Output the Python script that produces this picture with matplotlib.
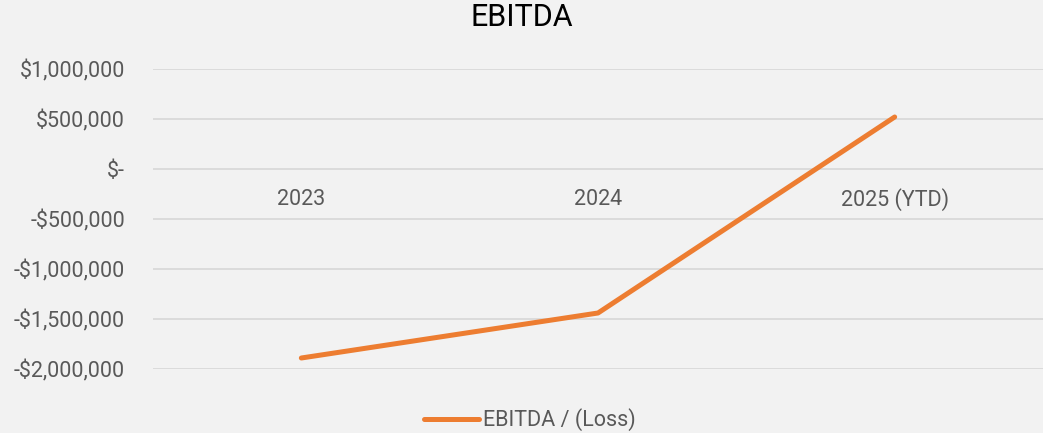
import matplotlib

matplotlib.use("Agg")
import matplotlib.pyplot as plt
from matplotlib.ticker import FuncFormatter

# --- Data ---------------------------------------------------------------------
years = ["2023", "2024", "2025 (YTD)"]
ebitda = [-1_890_000, -1_440_000, 520_000]
y_ticks = [-2_000_000, -1_500_000, -1_000_000, -500_000, 0, 500_000, 1_000_000]

BG = "#f2f2f2"
GRID = "#d9d9d9"
TEXT = "#595959"
ORANGE = "#ed7d31"

plt.rcParams["font.family"] = ["Roboto", "DejaVu Sans"]


def money(v, _pos=None):
    if v == 0:
        return "$-"
    sign = "-" if v < 0 else ""
    return f"{sign}${abs(v):,.0f}"


fig = plt.figure(figsize=(10.43, 4.33), dpi=100, facecolor=BG)
ax = fig.add_axes([153 / 1043, 1 - 369 / 433, 1 - 153 / 1043, 300 / 433])
ax.set_facecolor(BG)

x = range(len(years))
ax.plot(x, ebitda, color=ORANGE, lw=3.6, solid_capstyle="round",
        label="EBITDA / (Loss)", zorder=3)

ax.set_xlim(-0.5, len(years) - 0.5)
ax.set_ylim(y_ticks[0], y_ticks[-1])
ax.set_yticks(y_ticks)
ax.yaxis.set_major_formatter(FuncFormatter(money))
ax.grid(axis="y", color=GRID, lw=1.3)
ax.set_axisbelow(True)
ax.set_xticks([])
ax.tick_params(axis="y", length=0, pad=20, labelsize=15.5, labelcolor=TEXT)
for s in ax.spines.values():
    s.set_visible(False)

# category labels sit just below the zero line
for i, lab in enumerate(years):
    ax.annotate(lab, (i, 0), xytext=(0, -31), textcoords="offset pixels",
                ha="center", va="center", fontsize=15.5, color=TEXT)

fig.text(0.5, 1 - 18 / 433, "EBITDA", ha="center", va="center",
         fontsize=22, color="#000000")

fig.legend(loc="center", bbox_to_anchor=(0.508, 1 - 420 / 433), frameon=False,
           fontsize=15.5, labelcolor=TEXT, handlelength=2.55, handletextpad=0.15)

fig.savefig("out.png", dpi=100, facecolor=BG)
